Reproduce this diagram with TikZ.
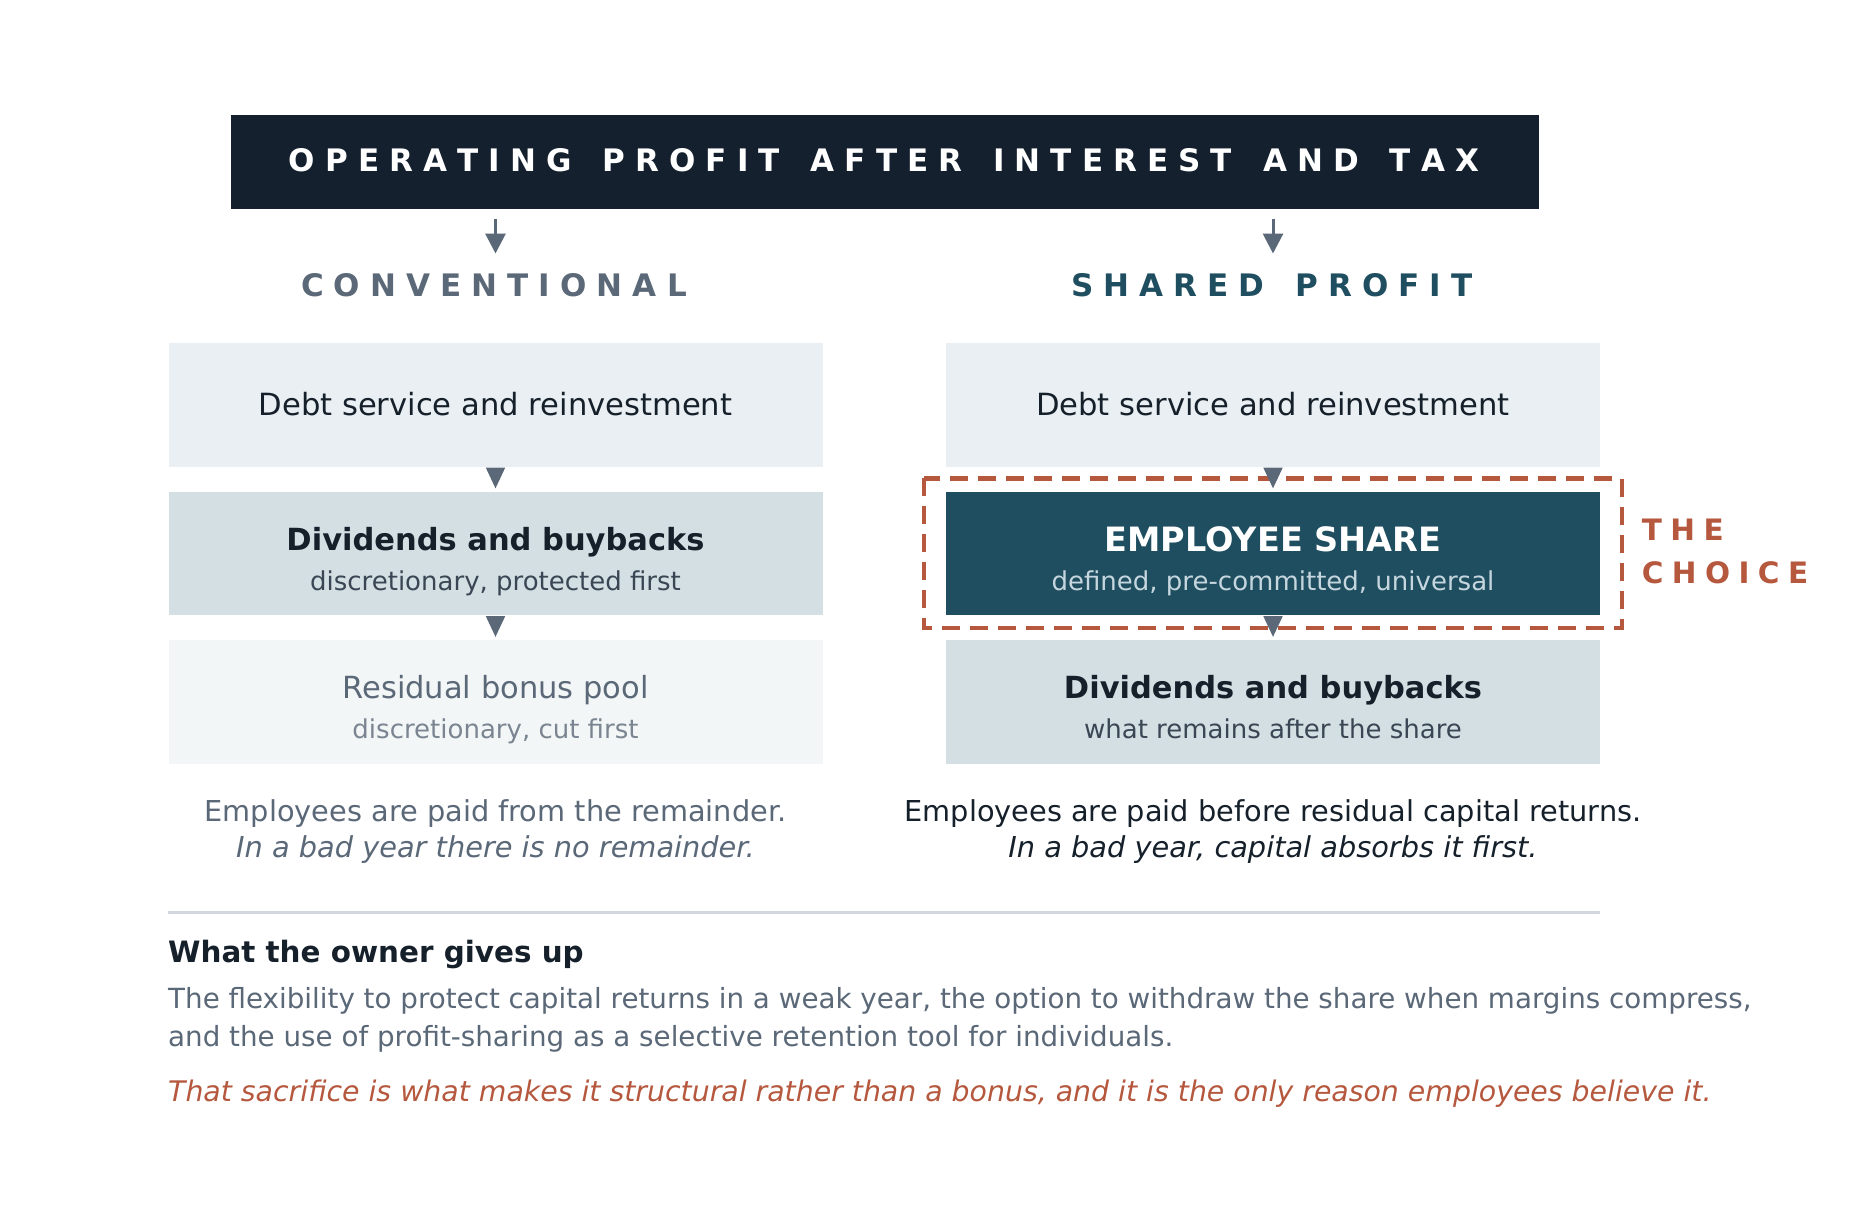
\documentclass[tikz,border=0pt]{standalone}
\usepackage{fontspec}
\setmainfont{DejaVu Sans}
\usetikzlibrary{calc,arrows.meta}
\definecolor{navy}{HTML}{14202D}
\definecolor{slate}{HTML}{5A6878}
\definecolor{tealc}{HTML}{1F4E60}
\definecolor{boxA}{HTML}{E9EFF2}
\definecolor{boxB}{HTML}{D3DFE3}
\definecolor{boxC}{HTML}{F3F6F7}
\definecolor{rust}{HTML}{B5583E}
\definecolor{ink}{HTML}{15202B}
\definecolor{subink}{HTML}{3A4654}
\definecolor{faint}{HTML}{7A8591}
\definecolor{rulec}{HTML}{D2D6DE}
\definecolor{pale}{HTML}{C5D6DE}
\makeatletter
\newdimen\trkamt
\def\trk#1{\trk@#1\@nil}
\def\trk@#1{\ifx#1\@nil\else#1\kern\trkamt\expandafter\trk@\fi}
\makeatother
\newcommand\setfs[1]{\fontsize{#1pt}{#1pt}\selectfont}
\tikzset{
  colbox/.style={minimum width=654pt, minimum height=123.5pt, inner sep=0pt, draw=none},
  tri/.style={fill=slate},
  txt/.style={anchor=base, inner sep=0pt},
  txtw/.style={anchor=base west, inner sep=0pt},
  toparrow/.style={draw=slate, line width=3pt, -{Triangle[width=20pt,length=20pt]}},
  choicebox/.style={draw=rust, line width=4.5pt, dash pattern=on 18pt off 10pt},
}
\begin{document}
\begin{tikzpicture}[x=1pt,y=-1pt]
\useasboundingbox (0,0) rectangle (1874,1216);
\fill[white] (0,0) rectangle (1874,1216);
% header
\node[fill=navy, minimum width=1308pt, minimum height=94pt, inner sep=0pt] (hdr) at (885,162) {};
\node[txt, text=white] (hdrtxt) at (889,171) {\setfs{31}\bfseries\trkamt=0.325em\relax\trk{OPERATING~PROFIT~AFTER~INTEREST~AND~TAX}};
% column labels
\node[txt, text=slate] (conv) at (499,296.7) {\setfs{31}\bfseries\trkamt=0.325em\relax\trk{CONVENTIONAL}};
\node[txt, text=tealc] (shared) at (1277,296.7) {\setfs{31}\bfseries\trkamt=0.325em\relax\trk{SHARED~PROFIT}};
\coordinate (a1s) at (495.5,219);
\coordinate (a1e) at (495.5,253.5);
\coordinate (a2s) at (1273,219);
\coordinate (a2e) at (1273,253.5);
\draw[toparrow] (a1s) -- (a1e);
\draw[toparrow] (a2s) -- (a2e);
% left column boxes
\node[colbox, fill=boxA] (L1) at (495.5,404.75) {};
\node[colbox, fill=boxB] (L2) at (495.5,553.25) {};
\node[colbox, fill=boxC] (L3) at (495.5,701.75) {};
% right column boxes
\node[colbox, fill=boxA] (R1) at (1273,404.75) {};
\node[colbox, fill=tealc] (R2) at (1273,553.25) {};
\node[colbox, fill=boxB] (R3) at (1273,701.75) {};
% choice frame
\draw[choicebox] ($(R2.north west)+(-22,-13)$) rectangle ($(R2.south east)+(22,13)$);
\node[txtw, text=rust] (the) at (1641.7,540) {\setfs{29.5}\bfseries\trkamt=0.285em\relax\trk{THE}};
\node[txtw, text=rust] (choice) at (1641.7,583.3) {\setfs{29.5}\bfseries\trkamt=0.285em\relax\trk{CHOICE}};
% triangles
\fill[tri] ($(L1.south)+(-9.7,1)$) -- ($(L1.south)+(9.7,1)$) -- ($(L2.north)+(0,-3)$) -- cycle;
\fill[tri] ($(L2.south)+(-9.7,1)$) -- ($(L2.south)+(9.7,1)$) -- ($(L3.north)+(0,-3)$) -- cycle;
\fill[tri] ($(R1.south)+(-9.7,1)$) -- ($(R1.south)+(9.7,1)$) -- ($(R2.north)+(0,-3)$) -- cycle;
\fill[tri] ($(R2.south)+(-9.7,1)$) -- ($(R2.south)+(9.7,1)$) -- ($(R3.north)+(0,-3)$) -- cycle;
% box texts
\node[txt, text=ink] (l1t) at (495.5,415.5) {\setfs{30.6}Debt service and reinvestment};
\node[txt, text=ink] (r1t) at (1273,415.5) {\setfs{30.6}Debt service and reinvestment};
\node[txt, text=ink] (l2t) at (495.5,550) {\setfs{30.5}\bfseries Dividends and buybacks};
\node[txt, text=subink] (l2s) at (495.5,590) {\setfs{26}discretionary, protected first};
\node[txt, text=white] (r2t) at (1273,551) {\setfs{33.5}\bfseries EMPLOYEE SHARE};
\node[txt, text=pale] (r2s) at (1273,590.5) {\setfs{26}defined, pre-committed, universal};
\node[txt, text=slate] (l3t) at (495.5,698.3) {\setfs{30.5}Residual bonus pool};
\node[txt, text=faint] (l3s) at (495.5,738.3) {\setfs{26}discretionary, cut first};
\node[txt, text=ink] (r3t) at (1273,698.3) {\setfs{30.5}\bfseries Dividends and buybacks};
\node[txt, text=subink] (r3s) at (1273,738.3) {\setfs{26}what remains after the share};
% footnotes
\node[txt, text=slate] (lf1) at (495.5,821.7) {\setfs{28.8}Employees are paid from the remainder.};
\node[txt, text=slate] (lf2) at (495.5,857.7) {\setfs{28.8}\itshape In a bad year there is no remainder.};
\node[txt, text=ink] (rf1) at (1273,821.7) {\setfs{28.8}Employees are paid before residual capital returns.};
\node[txt, text=ink] (rf2) at (1273,857.7) {\setfs{28.8}\itshape In a bad year, capital absorbs it first.};
% divider
\draw[rulec, line width=2.7pt] (168,912.3) -- (1600,912.3);
% bottom
\node[txtw, text=ink] (owner) at (168,962.7) {\setfs{29.4}\bfseries What the owner gives up};
\node[txtw, text=slate] (b1) at (168,1008.3) {\setfs{27.75}The flexibility to protect capital returns in a weak year, the option to withdraw the share when margins compress,};
\node[txtw, text=slate] (b2) at (168,1046) {\setfs{27.75}and the use of profit-sharing as a selective retention tool for individuals.};
\node[txtw, text=rust] (b3) at (168,1101) {\setfs{28.35}\itshape That sacrifice is what makes it structural rather than a bonus, and it is the only reason employees believe it.};
\end{tikzpicture}
\end{document}
